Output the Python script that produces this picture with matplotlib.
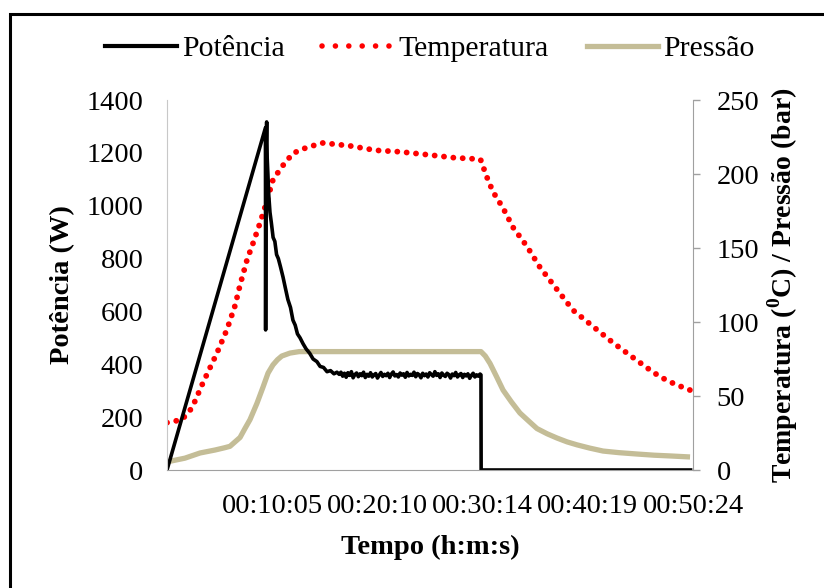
import matplotlib
matplotlib.use("Agg")
import matplotlib.pyplot as plt
import numpy as np

plt.rcParams['font.family'] = ['Liberation Serif', 'DejaVu Serif']
plt.rcParams['mathtext.fontset'] = 'custom'
plt.rcParams['mathtext.rm'] = 'Liberation Serif'
plt.rcParams['mathtext.bf'] = 'Liberation Serif:bold'

# time in seconds
tick_pos = [605, 1210, 1814, 2419, 3024]
tick_lab = ['00:10:05', '00:20:10', '00:30:14', '00:40:19', '00:50:24']

# power (W): ramp, spike, decay
power_t_a = [0, 566, 567, 569, 573, 576, 580, 585, 592, 600, 610, 620, 630, 640, 652, 667,
             680, 695, 710, 724, 737, 750, 765, 782, 800, 820, 840, 862, 880, 900, 920, 940,
             960, 977]
power_v_a = [0, 1295, 530, 1200, 1317, 1180, 1120, 1040, 975, 935, 880, 865, 815, 800, 770, 730,
             690, 645, 615, 567, 548, 515, 500, 478, 458, 442, 420, 410, 392, 388, 372, 376,
             364, 370]
# power plateau, read every 10 s from 990 s
power_t_b = list(range(990, 1801, 10))
power_v_b = [362, 370, 355, 366, 351, 368, 358, 372, 349, 361, 367, 353, 364, 357, 370, 350,
             362, 355, 368, 352, 360, 365, 348, 359, 369, 354, 362, 357, 366, 350, 363, 371,
             356, 361, 352, 367, 359, 364, 351, 369, 356, 362, 358, 370, 353, 365, 360, 349,
             366, 357, 363, 352, 368, 361, 355, 372, 358, 364, 350, 367, 359, 354, 366, 361,
             348, 363, 357, 369, 352, 360, 365, 350, 362, 356, 364, 347, 358, 366, 352, 360,
             355, 363]
# power switched off
power_t_c = [1805, 1806, 3010]
power_v_c = [360, 0, 0]

# temperature (C)
temp_t = [0, 86, 144, 207, 287, 345, 391, 420, 460, 494, 535, 575, 609, 661, 724, 805, 897,
          1052, 1200, 1340, 1500, 1650, 1800, 1811, 1828, 1874, 1932, 1989, 2070, 2144, 2242,
          2334, 2449, 2564, 2679, 2760, 2834, 2920, 3007]
temp_v = [32, 34, 42, 59, 79, 95, 111, 125, 142, 153, 167, 182, 196, 205, 214, 218, 221,
          219, 216, 215, 213, 211, 210, 208, 201, 188, 177, 164, 151, 137, 122,
          108, 97, 86, 76, 69, 63, 58, 54]

# pressure (bar)
press_t = [0, 103, 190, 276, 330, 362, 391, 420, 448, 477, 517, 552, 581, 609, 635, 660, 707,
           760, 822, 1805, 1830, 1857, 1895, 1932, 1980, 2029, 2080, 2127, 2185, 2242, 2300,
           2357, 2430, 2507, 2600, 2702, 2800, 2892, 3007]
press_v = [5.5, 8, 11.5, 13.5, 15, 16, 19, 22, 28, 34, 45, 56, 65.5, 71, 74.5, 77, 79,
           80, 80, 80, 77, 72, 63, 54, 46, 38.5, 33, 28, 24.5, 21.6, 19,
           17, 14.8, 12.8, 11.7, 10.8, 10, 9.5, 8.8]

power_t = power_t_a + power_t_b + power_t_c
power_v = power_v_a + power_v_b + power_v_c

fig = plt.figure(figsize=(8.24, 5.88), dpi=100)
ax = fig.add_axes([167/824, 118/588, 526/824, 370/588])
ax2 = ax.twinx()

grey = '#A0A0A0'
fs = 20.5

ax2.plot(press_t, press_v, color='#C4BD97', lw=3.8, solid_capstyle='butt',
         solid_joinstyle='round')
ax2.plot(temp_t, temp_v, color='red', lw=4.2, linestyle=(0, (0.01, 1.6)),
         dash_capstyle='round')
ax.plot(power_t, power_v, color='black', lw=2.6, solid_joinstyle='round')

ax.set_zorder(ax2.get_zorder() + 1)
ax.patch.set_visible(False)

ax.set_xlim(0, 3024)
ax.set_ylim(0, 1400)
ax2.set_ylim(0, 250)
ax.set_yticks(range(0, 1401, 200))
ax2.set_yticks(range(0, 251, 50))
ax.set_xticks(tick_pos)
ax.set_xticklabels(tick_lab)

for s in ['top', 'right']:
    ax.spines[s].set_visible(False)
for s in ['top', 'left', 'bottom']:
    ax2.spines[s].set_visible(False)
ax.spines['left'].set_color('#C8C8C8')
ax.spines['bottom'].set_color(grey)
ax2.spines['right'].set_color(grey)

ax.tick_params(axis='y', length=0, pad=17, labelsize=fs)
ax.tick_params(axis='x', length=0, pad=17, labelsize=fs)
ax2.tick_params(axis='y', length=5, width=1, color=grey, pad=12, labelsize=fs)

ax.set_ylabel('Potência (W)', fontsize=fs, fontweight='bold', labelpad=8)
ax.set_xlabel('Tempo (h:m:s)', fontsize=fs, fontweight='bold', labelpad=12)
ax2.set_ylabel(r'Temperatura ($^{\mathbf{0}}$C) / Pressão (bar)', fontsize=20,
               fontweight='bold', labelpad=4)

h1, = ax.plot([], [], color='black', lw=3)
h2, = ax.plot([], [], color='red', lw=4, linestyle=(0, (0.01, 2.4)), dash_capstyle='round')
h3, = ax.plot([], [], color='#C4BD97', lw=3.8)
fig.legend([h1, h2, h3], ['Potência', 'Temperatura', 'Pressão'], loc='center',
           bbox_to_anchor=(430/824, 1 - 49/588), ncol=3, frameon=False, fontsize=21.5,
           handlelength=2.4, handletextpad=0.17, columnspacing=1.25)

fig.add_artist(plt.Rectangle((10/824, -0.05), 1.0, 1 - 14/588 + 0.05,
                             transform=fig.transFigure, fill=False, lw=2.2, ec='black'))

fig.savefig('out.png', dpi=100)
